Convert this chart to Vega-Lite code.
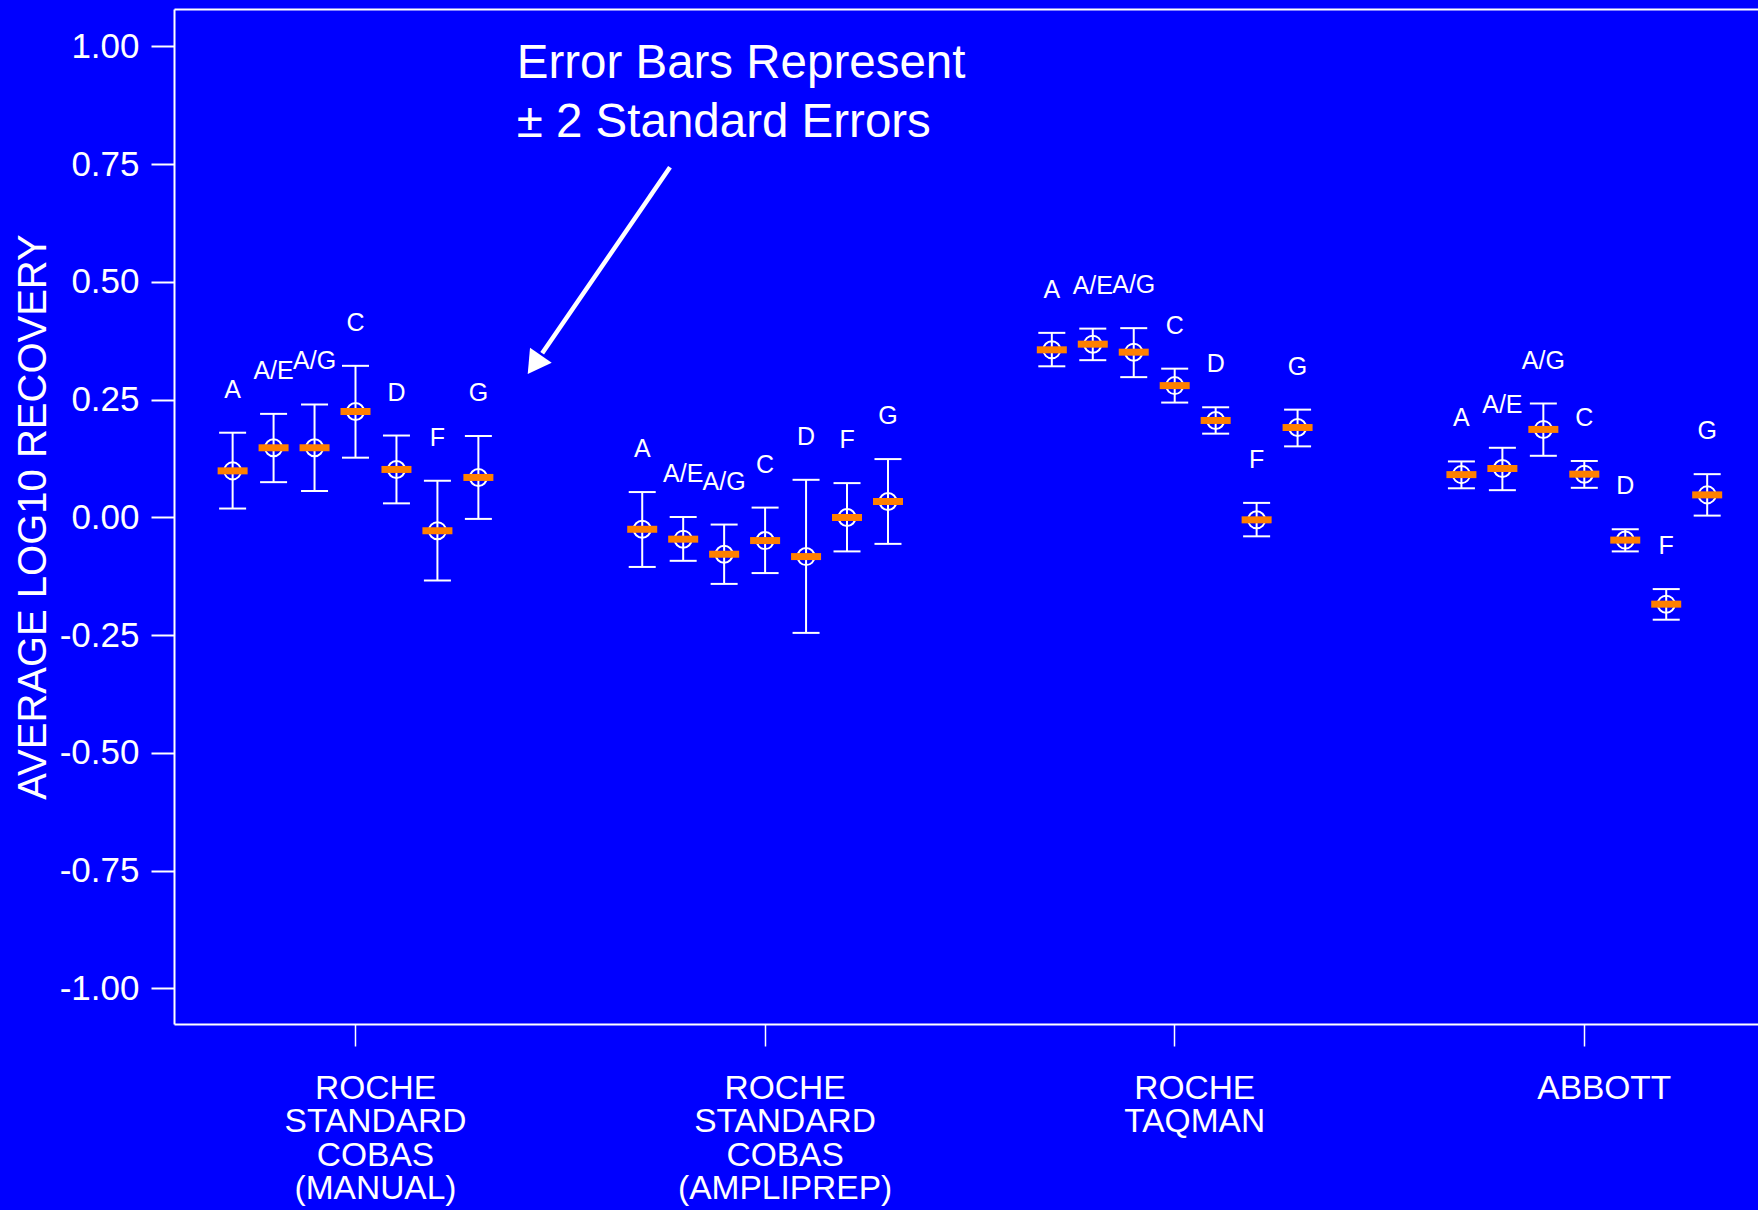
{
  "$schema": "https://vega.github.io/schema/vega-lite/v6.json",
  "width": 1584,
  "height": 1015,
  "autosize": {"type": "none"},
  "padding": {"left": 174, "top": 9, "right": 0, "bottom": 186},
  "background": "#0000FF",
  "config": {
    "view": {"stroke": null},
    "font": "Liberation Sans",
    "axis": {"grid": false}
  },
  "layer": [
    {
      "data": {
        "values": [
          {"assay": "ROCHE STANDARD COBAS (MANUAL)", "genotype": "A", "mean": 0.099, "lo": 0.019, "hi": 0.180},
          {"assay": "ROCHE STANDARD COBAS (MANUAL)", "genotype": "A/E", "mean": 0.148, "lo": 0.075, "hi": 0.220},
          {"assay": "ROCHE STANDARD COBAS (MANUAL)", "genotype": "A/G", "mean": 0.148, "lo": 0.056, "hi": 0.240},
          {"assay": "ROCHE STANDARD COBAS (MANUAL)", "genotype": "C", "mean": 0.225, "lo": 0.127, "hi": 0.322},
          {"assay": "ROCHE STANDARD COBAS (MANUAL)", "genotype": "D", "mean": 0.102, "lo": 0.030, "hi": 0.174},
          {"assay": "ROCHE STANDARD COBAS (MANUAL)", "genotype": "F", "mean": -0.028, "lo": -0.134, "hi": 0.078},
          {"assay": "ROCHE STANDARD COBAS (MANUAL)", "genotype": "G", "mean": 0.085, "lo": -0.003, "hi": 0.173},
          {"assay": "ROCHE STANDARD COBAS (AMPLIPREP)", "genotype": "A", "mean": -0.025, "lo": -0.105, "hi": 0.054},
          {"assay": "ROCHE STANDARD COBAS (AMPLIPREP)", "genotype": "A/E", "mean": -0.046, "lo": -0.092, "hi": 0.001},
          {"assay": "ROCHE STANDARD COBAS (AMPLIPREP)", "genotype": "A/G", "mean": -0.078, "lo": -0.141, "hi": -0.015},
          {"assay": "ROCHE STANDARD COBAS (AMPLIPREP)", "genotype": "C", "mean": -0.049, "lo": -0.118, "hi": 0.021},
          {"assay": "ROCHE STANDARD COBAS (AMPLIPREP)", "genotype": "D", "mean": -0.083, "lo": -0.245, "hi": 0.080},
          {"assay": "ROCHE STANDARD COBAS (AMPLIPREP)", "genotype": "F", "mean": 0.000, "lo": -0.072, "hi": 0.073},
          {"assay": "ROCHE STANDARD COBAS (AMPLIPREP)", "genotype": "G", "mean": 0.034, "lo": -0.056, "hi": 0.124},
          {"assay": "ROCHE TAQMAN", "genotype": "A", "mean": 0.356, "lo": 0.321, "hi": 0.392},
          {"assay": "ROCHE TAQMAN", "genotype": "A/E", "mean": 0.368, "lo": 0.334, "hi": 0.401},
          {"assay": "ROCHE TAQMAN", "genotype": "A/G", "mean": 0.351, "lo": 0.298, "hi": 0.402},
          {"assay": "ROCHE TAQMAN", "genotype": "C", "mean": 0.280, "lo": 0.244, "hi": 0.316},
          {"assay": "ROCHE TAQMAN", "genotype": "D", "mean": 0.206, "lo": 0.178, "hi": 0.234},
          {"assay": "ROCHE TAQMAN", "genotype": "F", "mean": -0.005, "lo": -0.040, "hi": 0.031},
          {"assay": "ROCHE TAQMAN", "genotype": "G", "mean": 0.191, "lo": 0.151, "hi": 0.229},
          {"assay": "ABBOTT", "genotype": "A", "mean": 0.091, "lo": 0.062, "hi": 0.119},
          {"assay": "ABBOTT", "genotype": "A/E", "mean": 0.104, "lo": 0.058, "hi": 0.148},
          {"assay": "ABBOTT", "genotype": "A/G", "mean": 0.187, "lo": 0.131, "hi": 0.242},
          {"assay": "ABBOTT", "genotype": "C", "mean": 0.092, "lo": 0.063, "hi": 0.120},
          {"assay": "ABBOTT", "genotype": "D", "mean": -0.048, "lo": -0.072, "hi": -0.025},
          {"assay": "ABBOTT", "genotype": "F", "mean": -0.184, "lo": -0.217, "hi": -0.152},
          {"assay": "ABBOTT", "genotype": "G", "mean": 0.048, "lo": 0.004, "hi": 0.092}
        ]
      },
      "encoding": {
        "x": {
          "field": "assay",
          "type": "nominal",
          "sort": ["ROCHE STANDARD COBAS (MANUAL)", "ROCHE STANDARD COBAS (AMPLIPREP)", "ROCHE TAQMAN", "ABBOTT"],
          "scale": {"range": [-23.3, 1615.1], "paddingInner": 0, "paddingOuter": 0},
          "axis": {
            "orient": "bottom",
            "title": null,
            "domain": false,
            "ticks": true,
            "tickColor": "white",
            "tickWidth": 1.5,
            "tickSize": 22,
            "labelExpr": "split(datum.label, ' ')",
            "labelAngle": 0,
            "labelColor": "white",
            "labelFont": "Liberation Sans",
            "labelFontSize": 33.5,
            "labelLineHeight": 33.6,
            "labelBaseline": "top",
            "labelPadding": 26,
            "labelOffset": 20,
            "labelLimit": 0,
            "labelOverlap": false
          }
        },
        "xOffset": {
          "field": "genotype",
          "type": "nominal",
          "sort": ["A", "A/E", "A/G", "C", "D", "F", "G"],
          "scale": {"range": [61.44, 348.16], "paddingInner": 0, "paddingOuter": 0}
        }
      },
      "layer": [
        {
          "mark": {"type": "rule", "color": "white", "strokeWidth": 2},
          "encoding": {
            "y": {
              "field": "lo",
              "type": "quantitative",
              "scale": {"domain": [-1.0754, 1.0796], "nice": false, "zero": false},
              "axis": {
                "title": "AVERAGE LOG10 RECOVERY",
                "titleColor": "white",
                "titleFont": "Liberation Sans",
                "titleFontSize": 40,
                "titleFontWeight": "normal",
                "titleAngle": -90,
                "titleAlign": "center",
                "titleBaseline": "alphabetic",
                "titleX": -129,
                "titleY": 507.5,
                "values": [-1, -0.75, -0.5, -0.25, 0, 0.25, 0.5, 0.75, 1],
                "labelExpr": "(datum.value < 0 ? '-' : '') + format(abs(datum.value), '.2f')",
                "labelColor": "white",
                "labelFont": "Liberation Sans",
                "labelFontSize": 35,
                "labelPadding": 12,
                "tickColor": "white",
                "tickWidth": 2,
                "tickSize": 23,
                "domainColor": "white",
                "domainWidth": 2
              }
            },
            "y2": {"field": "hi"}
          }
        },
        {
          "mark": {"type": "tick", "orient": "horizontal", "color": "white", "size": 27, "thickness": 2, "opacity": 1},
          "encoding": {"y": {"field": "hi", "type": "quantitative"}}
        },
        {
          "mark": {"type": "tick", "orient": "horizontal", "color": "white", "size": 27, "thickness": 2, "opacity": 1},
          "encoding": {"y": {"field": "lo", "type": "quantitative"}}
        },
        {
          "mark": {"type": "point", "shape": "circle", "filled": false, "color": "white", "strokeWidth": 2, "size": 290, "opacity": 1},
          "encoding": {"y": {"field": "mean", "type": "quantitative"}}
        },
        {
          "mark": {"type": "tick", "orient": "horizontal", "color": "#FF8000", "size": 30, "thickness": 7, "opacity": 1},
          "encoding": {"y": {"field": "mean", "type": "quantitative"}}
        },
        {
          "mark": {"type": "text", "color": "white", "font": "Liberation Sans", "fontSize": 25, "align": "center", "baseline": "alphabetic", "dy": -35},
          "encoding": {
            "y": {"field": "hi", "type": "quantitative"},
            "text": {"field": "genotype"}
          }
        }
      ]
    },
    {
      "layer": [
        {
          "data": {"values": [{"x": 0.21635, "y": 0.9325, "note": "Error Bars Represent\n± 2 Standard Errors"}]},
          "mark": {"type": "text", "color": "white", "font": "Liberation Sans", "fontSize": 47.5, "lineHeight": 58.3, "lineBreak": "\n", "align": "left", "baseline": "alphabetic"},
          "encoding": {
            "x": {
              "field": "x",
              "type": "quantitative",
              "scale": {"domain": [0, 1], "nice": false, "zero": false},
              "axis": {"orient": "bottom", "title": null, "domain": true, "domainColor": "white", "domainWidth": 2, "ticks": false, "labels": false, "grid": false}
            },
            "y": {"field": "y", "type": "quantitative"},
            "text": {"field": "note"}
          }
        },
        {
          "data": {"values": [{"x": 0.31313, "y": 0.7435, "x2": 0.23245, "y2": 0.3486}]},
          "mark": {"type": "rule", "color": "white", "strokeWidth": 4.5},
          "encoding": {
            "x": {
              "field": "x",
              "type": "quantitative",
              "scale": {"domain": [0, 1], "nice": false, "zero": false},
              "axis": {"orient": "top", "title": null, "domain": true, "domainColor": "white", "domainWidth": 2, "ticks": false, "labels": false, "grid": false}
            },
            "y": {"field": "y", "type": "quantitative"},
            "x2": {"field": "x2"},
            "y2": {"field": "y2"}
          }
        },
        {
          "data": {"values": [{"x": 0.22746, "y": 0.3246}]},
          "mark": {"type": "point", "shape": "triangle-up", "angle": 215, "size": 700, "filled": true, "color": "white", "opacity": 1, "strokeWidth": 0},
          "encoding": {
            "x": {"field": "x", "type": "quantitative", "scale": {"domain": [0, 1], "nice": false, "zero": false}, "axis": null},
            "y": {"field": "y", "type": "quantitative"}
          }
        }
      ],
      "resolve": {"axis": {"x": "independent"}}
    }
  ],
  "resolve": {"scale": {"x": "independent"}}
}
